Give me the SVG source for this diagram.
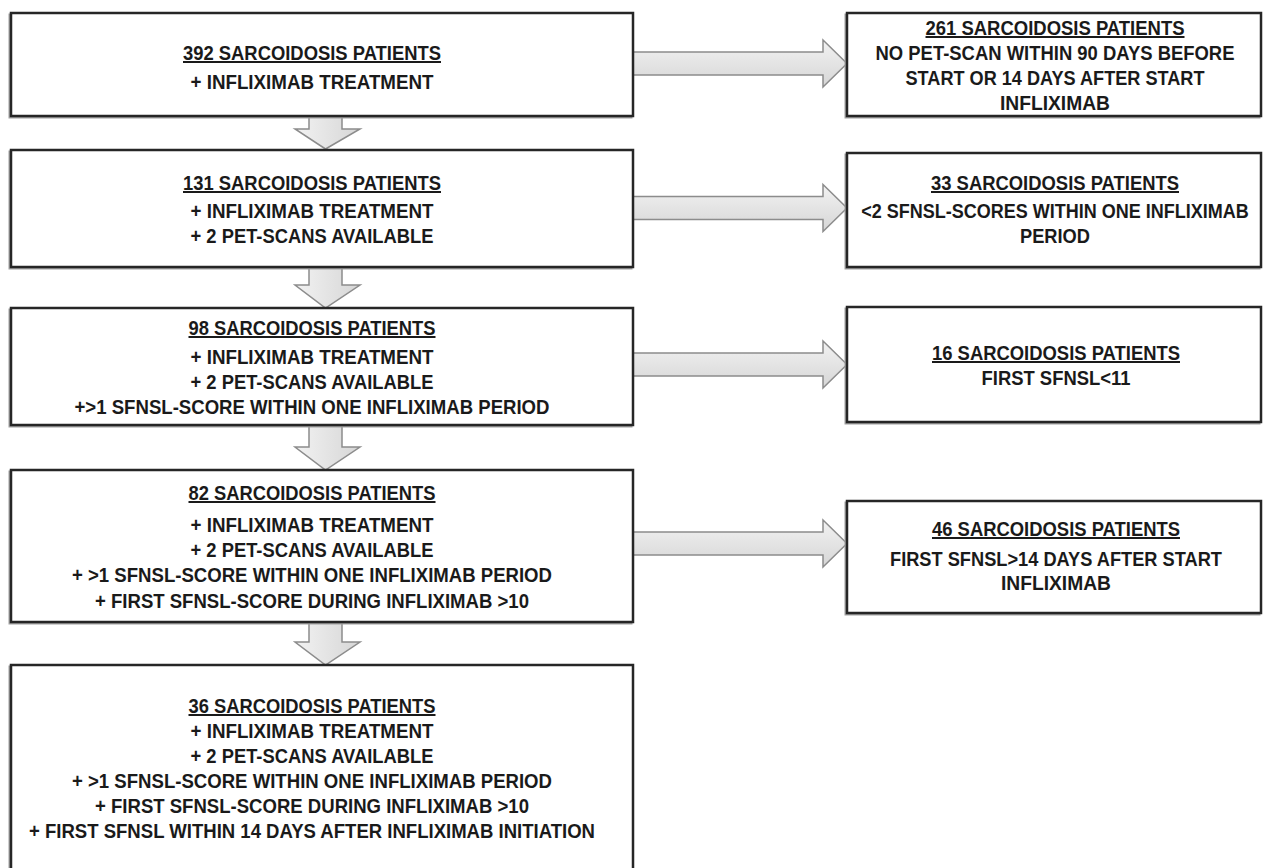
<svg xmlns="http://www.w3.org/2000/svg" width="1264" height="868" viewBox="0 0 1264 868">
<style>
  .box{fill:#fff;stroke:#262626;stroke-width:2.5}
  .shadow{fill:none;stroke:#a0a0a0;stroke-width:2}
  .t{font-family:"Liberation Sans",Arial,sans-serif;font-weight:bold;font-size:20px;fill:#1a1a1a;text-anchor:middle}
  .u{text-decoration:underline}
  .arr{stroke:#8c8c8c;stroke-width:1.5;stroke-linejoin:miter}
  .ah{fill:url(#gh)}
  .av{fill:url(#gv)}
</style>
<defs>
  <linearGradient id="gh" x1="0" y1="0" x2="0" y2="1">
    <stop offset="0" stop-color="#f2f2f2"/>
    <stop offset="1" stop-color="#d6d6d6"/>
  </linearGradient>
  <linearGradient id="gv" x1="0" y1="0" x2="1" y2="0">
    <stop offset="0" stop-color="#f2f2f2"/>
    <stop offset="1" stop-color="#d6d6d6"/>
  </linearGradient>
</defs>
<rect width="1264" height="868" fill="#fff"/>

<g id="connectors">
  <polygon class="arr av" points="309,116 342,116 342,129 360,129 325.5,149 295,129 309,129"/>
  <polygon class="arr av" points="309,267 342,267 342,285 360,285 325.5,308 295,285 309,285"/>
  <polygon class="arr av" points="309,425 342,425 342,447 360,447 325.5,470 295,447 309,447"/>
  <polygon class="arr av" points="309,622 342,622 342,642 360,642 325.5,665 295,642 309,642"/>
  <polygon class="arr ah" points="633,52 823,52 823,40 847,63.5 823,87 823,75 633,75"/>
  <polygon class="arr ah" points="633,196.5 823,196.5 823,184.5 847,208 823,231.5 823,219.5 633,219.5"/>
  <polygon class="arr ah" points="633,353 823,353 823,341 847,364.5 823,388 823,376 633,376"/>
  <polygon class="arr ah" points="633,532 823,532 823,520 847,543.5 823,567 823,555 633,555"/>
</g>

<g id="n1">
  <rect class="shadow" x="9.5" y="14.5" width="622" height="103"/>
  <rect class="box" x="11" y="13" width="622" height="103"/>
  <text class="t u" x="312" y="60" textLength="258" lengthAdjust="spacingAndGlyphs">392 SARCOIDOSIS PATIENTS</text>
  <text class="t" x="312" y="89" textLength="243" lengthAdjust="spacingAndGlyphs">+ INFLIXIMAB TREATMENT</text>
</g>

<g id="n2">
  <rect class="shadow" x="9.5" y="151.5" width="622" height="117"/>
  <rect class="box" x="11" y="150" width="622" height="117"/>
  <text class="t u" x="312" y="190" textLength="258" lengthAdjust="spacingAndGlyphs">131 SARCOIDOSIS PATIENTS</text>
  <text class="t" x="312" y="218" textLength="243" lengthAdjust="spacingAndGlyphs">+ INFLIXIMAB TREATMENT</text>
  <text class="t" x="312" y="243" textLength="243" lengthAdjust="spacingAndGlyphs">+ 2 PET-SCANS AVAILABLE</text>
</g>

<g id="n3">
  <rect class="shadow" x="9.5" y="309.5" width="622" height="117"/>
  <rect class="box" x="11" y="308" width="622" height="117"/>
  <text class="t u" x="312" y="335" textLength="247" lengthAdjust="spacingAndGlyphs">98 SARCOIDOSIS PATIENTS</text>
  <text class="t" x="312" y="364" textLength="243" lengthAdjust="spacingAndGlyphs">+ INFLIXIMAB TREATMENT</text>
  <text class="t" x="312" y="389" textLength="243" lengthAdjust="spacingAndGlyphs">+ 2 PET-SCANS AVAILABLE</text>
  <text class="t" x="312" y="414" textLength="475" lengthAdjust="spacingAndGlyphs">+&gt;1 SFNSL-SCORE WITHIN ONE INFLIXIMAB PERIOD</text>
</g>

<g id="n4">
  <rect class="shadow" x="9.5" y="471.5" width="622" height="152"/>
  <rect class="box" x="11" y="470" width="622" height="152"/>
  <text class="t u" x="312" y="500" textLength="247" lengthAdjust="spacingAndGlyphs">82 SARCOIDOSIS PATIENTS</text>
  <text class="t" x="312" y="532" textLength="243" lengthAdjust="spacingAndGlyphs">+ INFLIXIMAB TREATMENT</text>
  <text class="t" x="312" y="557" textLength="243" lengthAdjust="spacingAndGlyphs">+ 2 PET-SCANS AVAILABLE</text>
  <text class="t" x="312" y="582" textLength="480" lengthAdjust="spacingAndGlyphs">+ &gt;1 SFNSL-SCORE WITHIN ONE INFLIXIMAB PERIOD</text>
  <text class="t" x="312" y="608" textLength="434" lengthAdjust="spacingAndGlyphs">+ FIRST SFNSL-SCORE DURING INFLIXIMAB &gt;10</text>
</g>

<g id="n5">
  <rect class="shadow" x="9.5" y="666.5" width="622" height="220"/>
  <rect class="box" x="11" y="665" width="622" height="220"/>
  <text class="t u" x="312" y="713" textLength="247" lengthAdjust="spacingAndGlyphs">36 SARCOIDOSIS PATIENTS</text>
  <text class="t" x="312" y="738" textLength="243" lengthAdjust="spacingAndGlyphs">+ INFLIXIMAB TREATMENT</text>
  <text class="t" x="312" y="763" textLength="243" lengthAdjust="spacingAndGlyphs">+ 2 PET-SCANS AVAILABLE</text>
  <text class="t" x="312" y="788" textLength="480" lengthAdjust="spacingAndGlyphs">+ &gt;1 SFNSL-SCORE WITHIN ONE INFLIXIMAB PERIOD</text>
  <text class="t" x="312" y="813" textLength="434" lengthAdjust="spacingAndGlyphs">+ FIRST SFNSL-SCORE DURING INFLIXIMAB &gt;10</text>
  <text class="t" x="312" y="838" textLength="566" lengthAdjust="spacingAndGlyphs">+ FIRST SFNSL WITHIN 14 DAYS AFTER INFLIXIMAB INITIATION</text>
</g>

<g id="r1">
  <rect class="shadow" x="845.5" y="14.5" width="414" height="103"/>
  <rect class="box" x="847" y="13" width="414" height="103"/>
  <text class="t u" x="1055" y="35" textLength="259" lengthAdjust="spacingAndGlyphs">261 SARCOIDOSIS PATIENTS</text>
  <text class="t" x="1055" y="60" textLength="359" lengthAdjust="spacingAndGlyphs">NO PET-SCAN WITHIN 90 DAYS BEFORE</text>
  <text class="t" x="1055" y="85" textLength="299" lengthAdjust="spacingAndGlyphs">START OR 14 DAYS AFTER START</text>
  <text class="t" x="1055" y="110" textLength="110" lengthAdjust="spacingAndGlyphs">INFLIXIMAB</text>
</g>

<g id="r2">
  <rect class="shadow" x="845.5" y="154.5" width="414" height="114"/>
  <rect class="box" x="847" y="153" width="414" height="114"/>
  <text class="t u" x="1055" y="190" textLength="248" lengthAdjust="spacingAndGlyphs">33 SARCOIDOSIS PATIENTS</text>
  <text class="t" transform="translate(1055,218) scale(0.9,1)" x="0" y="0">&lt;2 SFNSL-SCORES WITHIN ONE INFLIXIMAB</text>
  <text class="t" x="1055" y="243" textLength="70" lengthAdjust="spacingAndGlyphs">PERIOD</text>
</g>

<g id="r3">
  <rect class="shadow" x="845.5" y="308.5" width="414" height="115"/>
  <rect class="box" x="847" y="307" width="414" height="115"/>
  <text class="t u" x="1056" y="360" textLength="248" lengthAdjust="spacingAndGlyphs">16 SARCOIDOSIS PATIENTS</text>
  <text class="t" x="1056" y="385" textLength="149" lengthAdjust="spacingAndGlyphs">FIRST SFNSL&lt;11</text>
</g>

<g id="r4">
  <rect class="shadow" x="845.5" y="502.5" width="414" height="112"/>
  <rect class="box" x="847" y="501" width="414" height="112"/>
  <text class="t u" x="1056" y="536" textLength="248" lengthAdjust="spacingAndGlyphs">46 SARCOIDOSIS PATIENTS</text>
  <text class="t" x="1056" y="566" textLength="332" lengthAdjust="spacingAndGlyphs">FIRST SFNSL&gt;14 DAYS AFTER START</text>
  <text class="t" x="1056" y="590" textLength="110" lengthAdjust="spacingAndGlyphs">INFLIXIMAB</text>
</g>
</svg>
